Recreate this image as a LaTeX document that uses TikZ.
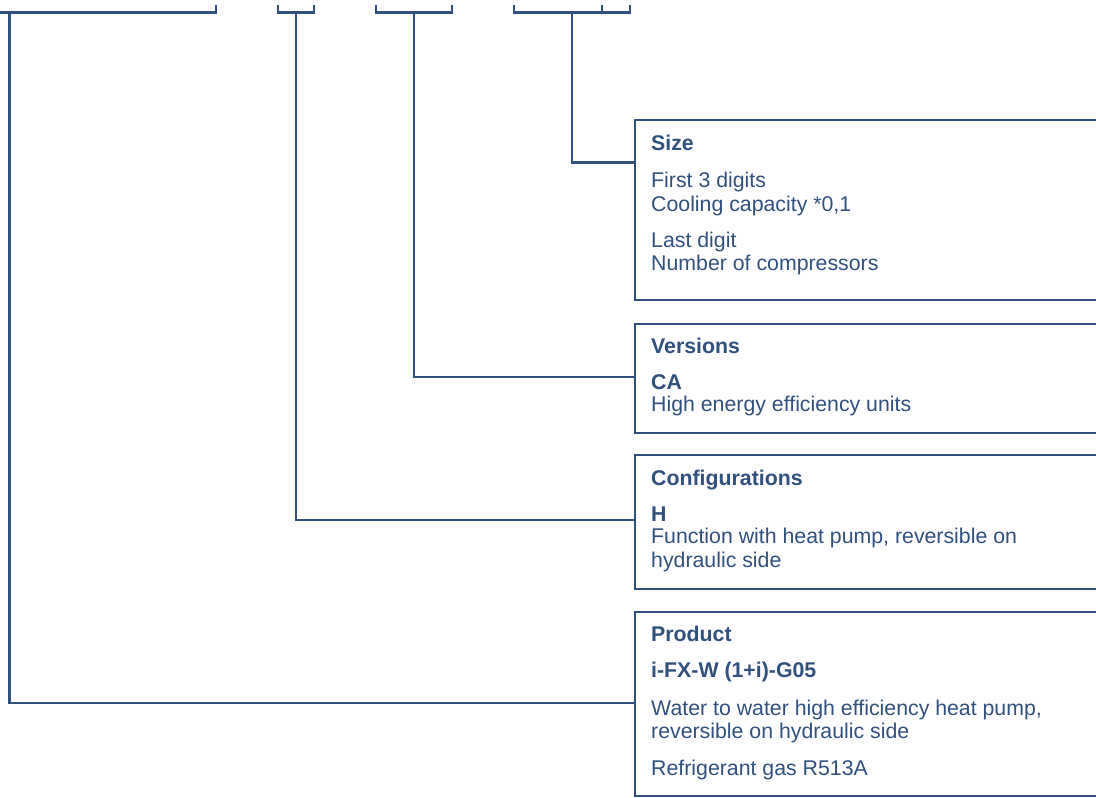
\documentclass[tikz,border=0pt]{standalone}
\usepackage{fontspec}
\setmainfont{Liberation Sans}
\definecolor{navy}{HTML}{30507E}
\tikzset{
  ln/.style={draw=navy, line width=2.2pt},
  codebox/.style={draw=navy, line width=2.2pt, rectangle, inner sep=0pt, anchor=north west, minimum width=480pt},
  txt/.style={anchor=base west, inner sep=0pt, text=navy, font=\fontsize{21.3}{24}\selectfont},
  hd/.style={anchor=base west, inner sep=0pt, text=navy, font=\fontsize{21.3}{24}\selectfont\bfseries},
}
\begin{document}
\begin{tikzpicture}[x=1pt,y=-1pt]
\useasboundingbox (0,0) rectangle (1096,798);

% boxes
\node[codebox, minimum height=180pt] (sizebox) at (634,119) {};
\node[codebox, minimum height=109pt] (verbox) at (634,323) {};
\node[codebox, minimum height=134pt] (confbox) at (634,454) {};
\node[codebox, minimum height=184pt] (prodbox) at (634,611) {};

% brackets
\draw[ln] (216,5) -- (216,12.5) -- (-5,12.5);
\draw[ln] (278,5) -- (278,12.5) -- (314,12.5) -- (314,5);
\draw[ln] (376,5) -- (376,12.5) -- (452,12.5) -- (452,5);
\draw[ln] (514,5) -- (514,12.5) -- (630,12.5) -- (630,5);
\draw[ln] (602,5) -- (602,12.5);

% stems and connector ends
\coordinate (s1) at (9.5,12.5);
\coordinate (s2) at (296,12.5);
\coordinate (s3) at (414,12.5);
\coordinate (s4) at (572,12.5);
\coordinate (prodIn) at (634,703);
\coordinate (confIn) at (634,520);
\coordinate (verIn) at (634,377);
\coordinate (sizeIn) at (634,162.5);
\draw[ln] (s1) |- (prodIn);
\draw[ln] (s2) |- (confIn);
\draw[ln] (s3) |- (verIn);
\draw[ln] (s4) |- (sizeIn);

% Size
\node[hd] (sizeH) at (651,150) {Size};
\node[txt] (sizeA) at (651,187) {First 3 digits};
\node[txt] (sizeB) at (651,211) {Cooling capacity *0,1};
\node[txt] (sizeC) at (651,247) {Last digit};
\node[txt] (sizeD) at (651,270.5) {Number of compressors};

% Versions
\node[hd] (verH) at (651,353) {Versions};
\node[hd] (verA) at (651,389) {CA};
\node[txt] (verB) at (651,411) {High energy efficiency units};

% Configurations
\node[hd] (confH) at (651,485) {Configurations};
\node[hd] (confA) at (651,521.5) {H};
\node[txt] (confB) at (651,543.5) {Function with heat pump, reversible on};
\node[txt] (confC) at (651,567) {hydraulic side};

% Product
\node[hd] (prodH) at (651,641) {Product};
\node[hd] (prodA) at (651,677) {i-FX-W (1+i)-G05};
\node[txt] (prodB) at (651,715.5) {Water to water high efficiency heat pump,};
\node[txt] (prodC) at (651,738.5) {reversible on hydraulic side};
\node[txt] (prodD) at (651,775) {Refrigerant gas R513A};
\end{tikzpicture}
\end{document}
